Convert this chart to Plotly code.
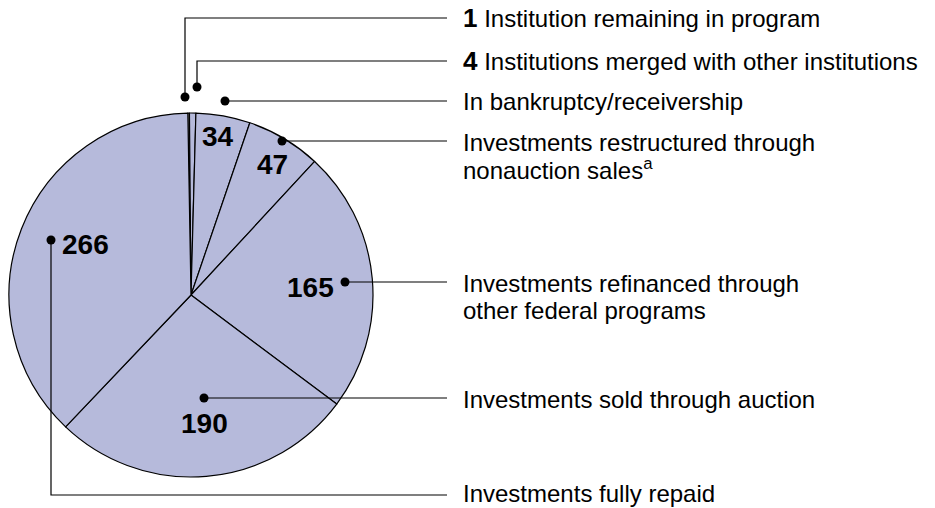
import plotly.graph_objects as go

# outcome counts, clockwise from the top of the pie
counts = [1, 4, 34, 47, 165, 190, 266]
outcomes = [
    "Institution remaining in program",
    "Institutions merged with other institutions",
    "In bankruptcy/receivership",
    "Investments restructured through<br>nonauction sales<sup>a</sup>",
    "Investments refinanced through<br>other federal programs",
    "Investments sold through auction",
    "Investments fully repaid",
]
slice_colors = ["#FFFFFF", "#B6BADB", "#B6BADB", "#B6BADB", "#B6BADB", "#B6BADB", "#B6BADB"]
count_outside = [True, True, False, False, False, False, False]

W, H = 935, 508
FONT = "Liberation Sans, Arial, sans-serif"

# pie geometry in page pixels
cx, cy, r = 191, 295, 182

# number label positions inside the pie (page pixels)
num_pos = [None, None, (218, 136), (272, 164), (310, 287), (204, 423), (85, 244)]
# leader line paths, first point is the dot
leaders = [
    [(185, 97), (185, 18), (447, 18)],
    [(197, 87), (197, 61), (447, 61)],
    [(225, 101), (447, 101)],
    [(282, 141), (447, 141)],
    [(345, 282), (447, 282)],
    [(204, 398), (447, 398)],
    [(51, 240), (51, 495), (447, 495)],
]
text_y = [18, 61, 101, 142, 283, 399, 493]
line_gap = 27

fig = go.Figure()

fig.add_trace(go.Pie(
    values=counts,
    labels=[o.replace("<br>", " ") for o in outcomes],
    sort=False,
    direction="clockwise",
    rotation=-1,
    textinfo="none",
    hoverinfo="label+value",
    marker=dict(colors=slice_colors, line=dict(color="black", width=1.2)),
    domain=dict(x=[(cx - r) / W, (cx + r) / W], y=[1 - (cy + r) / H, 1 - (cy - r) / H]),
    showlegend=False,
))

# empty cartesian trace so the pixel-space axes exist
fig.add_trace(go.Scatter(x=[], y=[], showlegend=False, hoverinfo="skip"))

shapes = []
for pts in leaders:
    path = "M" + " L".join(f"{x},{y}" for x, y in pts)
    shapes.append(dict(type="path", path=path, xref="x", yref="y", layer="above",
                       line=dict(color="black", width=1.2)))
    dx, dy = pts[0]
    shapes.append(dict(type="circle", xref="x", yref="y", layer="above",
                       x0=dx - 4.5, x1=dx + 4.5, y0=dy - 4.5, y1=dy + 4.5,
                       fillcolor="black", line=dict(width=0)))

annotations = []
for i, (n, txt) in enumerate(zip(counts, outcomes)):
    lines = txt.split("<br>")
    if count_outside[i]:
        lines[0] = f"<b style='font-size:26px'>{n}</b> " + lines[0]
    for j, ln in enumerate(lines):
        annotations.append(dict(
            x=461, y=text_y[i] + j * line_gap, xref="x", yref="y",
            text=ln, showarrow=False, xanchor="left", yanchor="middle",
            font=dict(family=FONT, size=24, color="black"),
        ))
    if num_pos[i] is not None:
        annotations.append(dict(
            x=num_pos[i][0], y=num_pos[i][1], xref="x", yref="y",
            text=f"<b>{n}</b>", showarrow=False, xanchor="center", yanchor="middle",
            font=dict(family=FONT, size=28, color="black"),
        ))

fig.update_layout(
    width=W, height=H,
    margin=dict(l=0, r=0, t=0, b=0),
    paper_bgcolor="white", plot_bgcolor="rgba(0,0,0,0)",
    xaxis=dict(range=[0, W], visible=False, fixedrange=True),
    yaxis=dict(range=[H, 0], visible=False, fixedrange=True),
    shapes=shapes,
    annotations=annotations,
)

fig.write_html("out.html", config={"displayModeBar": False},
               post_script="document.body.style.margin = '0';")
